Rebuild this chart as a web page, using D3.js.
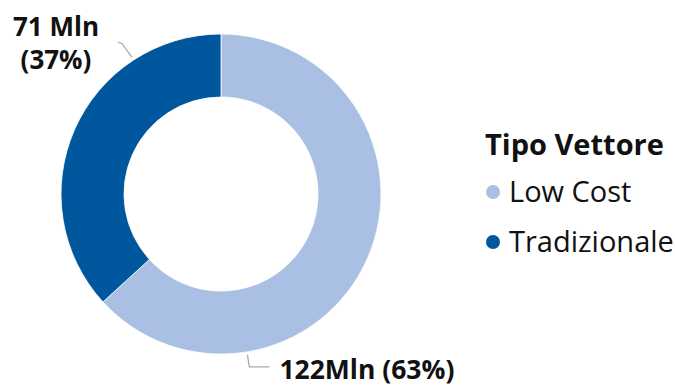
<!DOCTYPE html>
<html>
<head>
<meta charset="utf-8">
<script src="https://cdn.jsdelivr.net/npm/d3@7"></script>
<style>
  body { margin: 0; background: #fff; }
  svg text { font-family: "Open Sans", "Noto Sans", sans-serif; fill: #111; }
</style>
</head>
<body>
<div id="chart"></div>
<script>
// data
var categories = ["Low Cost", "Tradizionale"];
var values = [122, 71];
var labels = ["122Mln (63%)", ["71 Mln", "(37%)"]];
var legendTitle = "Tipo Vettore";
var colors = ["#A9BFE4", "#00579E"];

var width = 675, height = 385;
var cx = 221, cy = 194;
var outerR = 160, innerR = 97;

var svg = d3.select("#chart")
  .append("svg")
  .attr("width", width)
  .attr("height", height);

var color = d3.scaleOrdinal().domain(categories).range(colors);

var pie = d3.pie().sort(null).value(function(d) { return d; });
var arcs = pie(values);

var arc = d3.arc().innerRadius(innerR).outerRadius(outerR);

var g = svg.append("g").attr("transform", "translate(" + cx + "," + cy + ")");

g.selectAll("path")
  .data(arcs)
  .enter().append("path")
  .attr("d", arc)
  .attr("fill", function(d, i) { return color(categories[i]); })
  .attr("stroke", "#fff")
  .attr("stroke-width", 0.8);

// leader lines start 3/4 of the way through each slice, on the outer edge
function edgePoint(d, r) {
  var a = d.startAngle + (d.endAngle - d.startAngle) * 0.75;
  return [Math.sin(a) * r, -Math.cos(a) * r];
}

function pts(list) {
  return list.map(function(p) { return p.join(","); }).join(" ");
}

// Low Cost label
var p0 = edgePoint(arcs[0], outerR + 3);
var p0b = [p0[0] + 2, p0[1] + 12];
var p0c = [p0b[0] + 20, p0b[1]];
g.append("polyline")
  .attr("points", pts([p0, p0b, p0c]))
  .attr("fill", "none")
  .attr("stroke", "#aaa")
  .attr("stroke-width", 1.3);

g.append("text")
  .attr("x", p0c[0] + 10)
  .attr("y", p0c[1] + 12)
  .attr("font-size", 26.5)
  .attr("font-weight", 700)
  .text(labels[0]);

// Tradizionale label
var p1 = edgePoint(arcs[1], outerR + 3);
var p1b = [p1[0] - 10, p1[1] - 14];
var p1c = [p1b[0] - 4, p1b[1] - 1];
g.append("polyline")
  .attr("points", pts([p1, p1b, p1c]))
  .attr("fill", "none")
  .attr("stroke", "#aaa")
  .attr("stroke-width", 1.3);

var t1 = g.append("text")
  .attr("text-anchor", "middle")
  .attr("font-size", 26)
  .attr("font-weight", 700);
labels[1].forEach(function(s, i) {
  t1.append("tspan")
    .attr("x", p1c[0] - 62)
    .attr("y", p1c[1] - 6 + i * 33)
    .text(s);
});

// legend
var legend = svg.append("g").attr("transform", "translate(485,0)");
legend.append("text")
  .attr("x", 0)
  .attr("y", 155)
  .attr("font-size", 29)
  .attr("font-weight", 700)
  .text(legendTitle);

var items = legend.selectAll("g.item")
  .data(categories)
  .enter().append("g")
  .attr("class", "item")
  .attr("transform", function(d, i) { return "translate(0," + (202 + i * 50) + ")"; });

items.append("circle")
  .attr("cx", 8)
  .attr("cy", -10)
  .attr("r", 7)
  .attr("fill", function(d) { return color(d); });

items.append("text")
  .attr("x", 24)
  .attr("y", 0)
  .attr("font-size", 29)
  .text(function(d) { return d; });
</script>
</body>
</html>
